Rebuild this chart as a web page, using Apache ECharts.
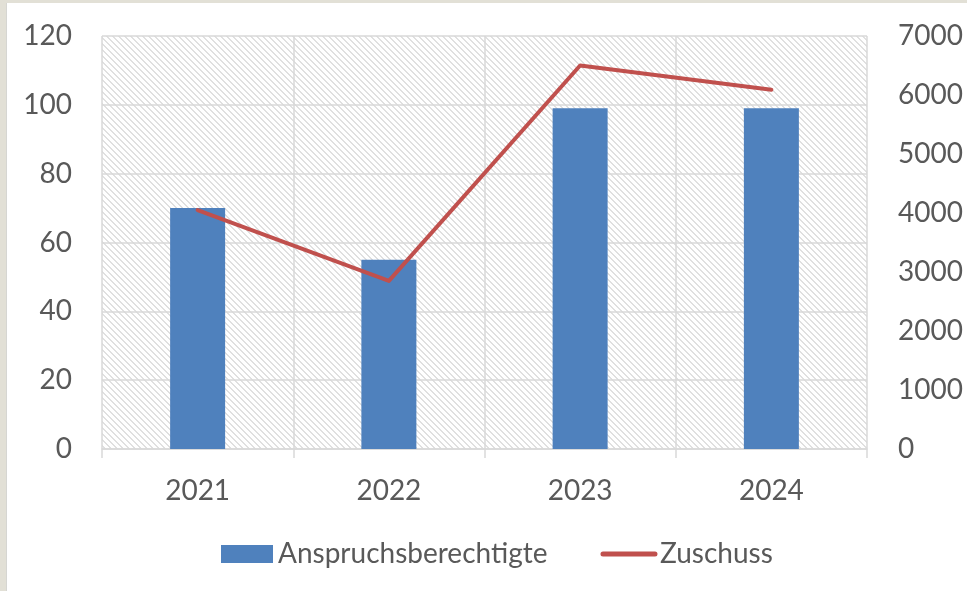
<!DOCTYPE html>
<html>
<head>
<meta charset="utf-8">
<script src="https://cdn.jsdelivr.net/npm/echarts@6/dist/echarts.min.js"></script>
<style>
  html, body { margin: 0; padding: 0; background: #ffffff; }
  #wrap {
    width: 967px; height: 591px; box-sizing: border-box;
    border-left: 6px solid #e2e0d6; border-top: 3px solid #e2e0d6;
  }
  #chart {
    width: 960px; height: 588px; border-left: 1px solid #d6d6d2;
  }
</style>
</head>
<body>
<div id="wrap"><div id="chart"></div></div>
<script>
// Jahre
const years = ['2021', '2022', '2023', '2024'];
// Anzahl Anspruchsberechtigte (linke Achse)
const berechtigte = [70, 55, 99, 99];
// Zuschuss (rechte Achse)
const zuschuss = [4050, 2850, 6500, 6090];

// schraffierter Hintergrund, wie im Original
function makeHatch () {
  const size = 6;
  const c = document.createElement('canvas');
  c.width = size; c.height = size;
  const ctx = c.getContext('2d');
  ctx.fillStyle = '#ffffff';
  ctx.fillRect(0, 0, size, size);
  ctx.fillStyle = '#e0e0e0';
  for (let y = 0; y < size; ++y) {
    ctx.fillRect(y, y, 1, 1);
    ctx.fillRect((y + 1) % size, y, 1, 1);
  }
  return c;
}

const font = 'Lato, "Open Sans", sans-serif';
const textColor = '#595959';
const gridColor = '#d9d9d9';

const chart = echarts.init(document.getElementById('chart'));
chart.setOption({
  animation: false,
  textStyle: { fontFamily: font },
  grid: {
    left: 95, right: 100, top: 33, bottom: 142,
    show: true,
    borderWidth: 0,
    backgroundColor: { image: makeHatch(), repeat: 'repeat' }
  },
  legend: {
    left: 209,
    top: 532,
    itemGap: 53,
    itemWidth: 52,
    itemHeight: 18,
    textStyle: { color: textColor, fontSize: 28, fontFamily: font },
    data: [
      { name: 'Anspruchsberechtigte', icon: 'rect' },
      { name: 'Zuschuss', itemStyle: { opacity: 0 }, lineStyle: { width: 5, cap: 'round' } }
    ]
  },
  xAxis: {
    type: 'category',
    data: years,
    axisLine: { lineStyle: { color: gridColor, width: 1.5 } },
    axisTick: { show: true, length: 9, lineStyle: { color: gridColor, width: 1.5 } },
    splitLine: { show: true, lineStyle: { color: gridColor, width: 1.5 } },
    axisLabel: { color: textColor, fontSize: 28, margin: 28 }
  },
  yAxis: [{
    type: 'value',
    min: 0, max: 120, interval: 20,
    axisLine: { show: false },
    axisTick: { show: false },
    splitLine: { lineStyle: { color: gridColor, width: 1.5 } },
    axisLabel: { color: textColor, fontSize: 28, margin: 30 }
  }, {
    type: 'value',
    min: 0, max: 7000, interval: 1000,
    axisLine: { show: false },
    axisTick: { show: false },
    splitLine: { show: false },
    axisLabel: { color: textColor, fontSize: 28, margin: 31, formatter: v => String(v) }
  }],
  series: [{
    name: 'Anspruchsberechtigte',
    type: 'bar',
    barWidth: 55,
    data: berechtigte,
    itemStyle: { color: '#4f81bd' }
  }, {
    name: 'Zuschuss',
    type: 'line',
    yAxisIndex: 1,
    data: zuschuss,
    symbol: 'none',
    lineStyle: { color: '#c0504d', width: 4, cap: 'round', join: 'round' },
    itemStyle: { color: '#c0504d' }
  }]
});
</script>
</body>
</html>
